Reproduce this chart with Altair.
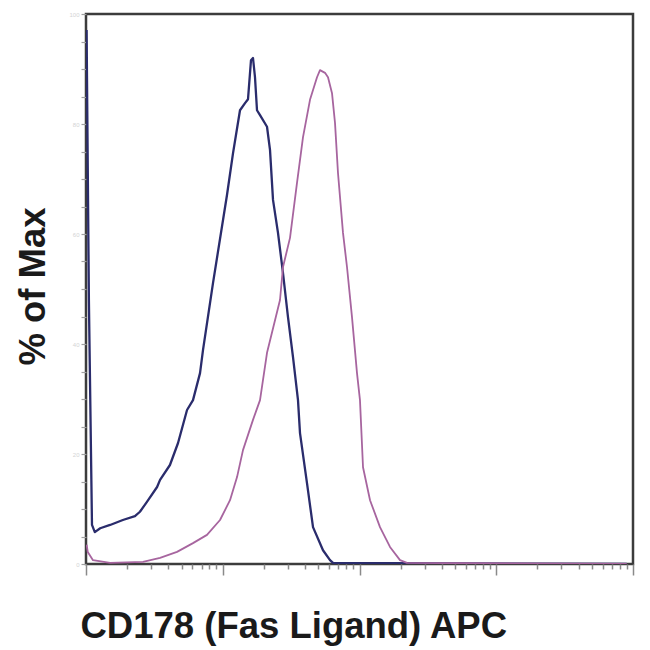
import altair as alt
import pandas as pd

# Blue histogram (isotype / unstained)
blue_x = [1.01, 1.05, 1.106, 1.16, 1.27, 1.50, 1.86, 2.28, 2.48, 2.79, 3.31, 3.48, 4.11, 4.71,
          5.48, 6.06, 6.82, 7.17, 8.49, 10.74, 11.89, 13.37, 14.55, 15.30, 16.09, 16.64, 17.21,
          17.80, 18.73, 21.07, 22.16, 23.31, 25.35, 27.58, 30.00, 32.64, 35.50, 36.72, 41.31,
          45.71, 54.09, 60.86, 64.01, 9000]
blue_y = [97.1, 48.0, 7.1, 5.8, 6.5, 7.1, 8.0, 8.7, 9.5, 11.3, 14.0, 15.3, 18.0, 22.0,
          28.0, 29.8, 34.7, 38.9, 51.1, 67.1, 74.7, 82.5, 83.8, 84.5, 91.6, 92.0, 88.5,
          82.5, 81.6, 79.5, 75.3, 66.2, 60.2, 52.9, 44.9, 37.6, 29.8, 23.8, 14.7,
          6.7, 2.5, 0.7, 0.2, 0.0]

# Purple histogram (CD178 stained)
purple_x = [1.01, 1.03, 1.125, 1.50, 2.61, 3.48, 4.63, 6.06, 7.67, 9.55, 11.30, 12.72, 14.06,
            16.64, 18.73, 21.07, 26.22, 27.58, 31.03, 34.91, 38.63, 43.45, 48.90, 51.42, 55.94,
            58.84, 62.94, 66.20, 69.62, 75.74, 81.02, 88.13, 95.88, 100.8, 106.1, 119.4, 141.2,
            167.1, 197.8, 222.6, 9000]
purple_y = [3.5, 2.2, 0.7, 0.2, 0.4, 1.1, 2.2, 3.8, 5.3, 8.0, 11.6, 15.8, 20.7,
            26.2, 29.8, 38.4, 48.0, 54.0, 59.3, 69.3, 77.6, 84.4, 88.5, 89.8, 89.3,
            88.5, 85.6, 80.2, 71.1, 60.2, 54.0, 44.9, 34.7, 29.8, 17.6, 11.6, 6.7,
            3.1, 0.7, 0.2, 0.0]

x_ticks = [m * 10 ** d for d in range(4) for m in range(1, 10)] + [10000]
y_ticks = list(range(0, 101, 5))

df = pd.concat([
    pd.DataFrame({"x": blue_x, "y": blue_y, "s": "blue", "o": range(len(blue_x))}),
    pd.DataFrame({"x": purple_x, "y": purple_y, "s": "purple", "o": range(len(purple_x))}),
])

major_test = "indexof([1,10,100,1000,10000], datum.value) >= 0"

chart = alt.Chart(df).mark_line(strokeJoin="round", clip=True).encode(
    x=alt.X("x:Q",
            scale=alt.Scale(type="log", domain=[1, 10000], nice=False),
            axis=alt.Axis(
                title="CD178 (Fas Ligand) APC",
                values=x_ticks, labels=False, domain=False, grid=False,
                tickColor="#8a8a8a", tickWidth=1.5,
                tickSize={"condition": {"test": major_test, "value": 11}, "value": 5},
                titleFont="Liberation Sans", titleFontSize=36.5, titleFontWeight="bold",
                titleColor="#1a1a1a", titleAnchor="start", titleAlign="left",
                titleX=-6, titleY=73, titleBaseline="alphabetic",
            )),
    y=alt.Y("y:Q",
            scale=alt.Scale(domain=[0, 100], nice=False),
            axis=alt.Axis(
                title="% of Max",
                values=y_ticks, domain=False, grid=False,
                tickColor="#a0a0a0", tickWidth=1.2, tickSize=5,
                labelExpr="datum.value % 20 == 0 ? datum.label : ''",
                labelColor="#d4d4d4", labelFontSize=6, labelPadding=2,
                titleFont="Liberation Sans", titleFontSize=36.5, titleFontWeight="bold",
                titleColor="#1a1a1a", titleAngle=270,
                titleX=-42, titleY=272, titleBaseline="alphabetic", titleAlign="center",
            )),
    color=alt.Color("s:N", scale=alt.Scale(domain=["blue", "purple"],
                                             range=["#2a2c6c", "#a7659f"]), legend=None),
    strokeWidth=alt.StrokeWidth("s:N", scale=alt.Scale(domain=["blue", "purple"],
                                                        range=[2.3, 1.8]), legend=None),
    order="o:Q",
    detail="s:N",
).properties(
    width=547, height=550,
    autosize=alt.AutoSizeParams(type="none"),
    padding={"left": 78, "top": 6, "right": 9, "bottom": 86},
).configure(
    background="white",
    view=alt.ViewConfig(stroke="#3c3c3c", strokeWidth=2.5, fill="white"),
)

chart.save("out.html", embed_options={"renderer": "svg", "actions": False})
